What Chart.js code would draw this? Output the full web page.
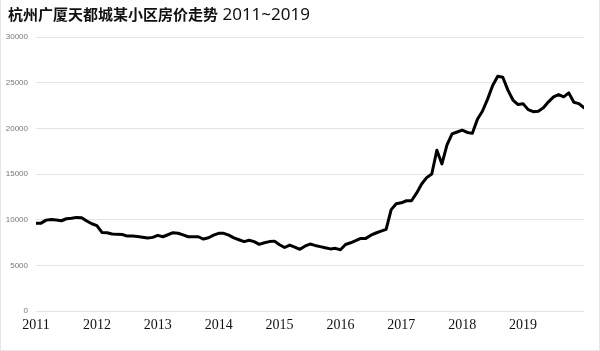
<!DOCTYPE html>
<html>
<head>
<meta charset="utf-8">
<script src="https://cdn.jsdelivr.net/npm/chart.js@4"></script>
<style>
html,body{margin:0;padding:0;background:#fff;}
#wrap{position:relative;width:600px;height:351px;box-sizing:border-box;border-left:1px solid #e6e6e6;border-right:1px solid #e6e6e6;border-bottom:1px solid #e6e6e6;}
#title{position:absolute;left:7px;top:2px;font-family:"Noto Sans CJK SC","Noto Sans",sans-serif;font-weight:bold;font-size:15px;color:#111;white-space:nowrap;}
#title span{font-weight:normal;font-size:17px;font-family:"Noto Sans","Noto Sans CJK SC",sans-serif;}
canvas{position:absolute;left:0;top:0;}
</style>
</head>
<body>
<div id="wrap">
<canvas id="c" width="600" height="351"></canvas>
<div id="title">杭州广厦天都城某小区房价走势<span> 2011~2019</span></div>
</div>
<script>
const startYear = 2011;
const yearTicks = [2011, 2012, 2013, 2014, 2015, 2016, 2017, 2018, 2019];
const yTicks = [0, 5000, 10000, 15000, 20000, 25000, 30000];
// monthly prices, Jan 2011 .. Jan 2020
const prices = [
  9600, 9620, 9950, 10030, 9955, 9880, 10100, 10160, 10250, 10220, 9850, 9550,
  9350, 8600, 8560, 8430, 8390, 8380, 8200, 8200, 8150, 8080, 7990, 8060,
  8280, 8130, 8350, 8570, 8510, 8330, 8130, 8130, 8130, 7880, 8020, 8300,
  8500, 8500, 8300, 8000, 7800, 7600, 7750, 7600, 7300, 7470, 7600, 7650,
  7250, 6950, 7220, 7000, 6750, 7100, 7330, 7180, 7050, 6920, 6800, 6860,
  6700, 7280, 7470, 7700, 7950, 7950, 8300, 8540, 8750, 8940, 11100, 11750,
  11850, 12070, 12070, 12900, 13900, 14600, 15000, 17600, 16100, 18200, 19400, 19600,
  19800, 19550, 19450, 21000, 21900, 23200, 24700, 25700, 25600, 24180, 23100, 22600,
  22700, 22050, 21820, 21880, 22250, 22900, 23450, 23700, 23450, 23880, 22850, 22700,
  22250
];
const points = prices.map((v, i) => ({x: startYear + i / 12, y: v}));

new Chart(document.getElementById('c'), {
  type: 'line',
  data: {
    datasets: [{
      data: points,
      borderColor: '#000',
      borderWidth: 3,
      pointRadius: 0,
      tension: 0,
      fill: false,
      borderJoinStyle: 'round',
      borderCapStyle: 'round'
    }]
  },
  options: {
    responsive: false,
    animation: false,
    layout: {padding: {left: 0, right: 17, top: 37, bottom: 0}},
    plugins: {legend: {display: false}, title: {display: false}, tooltip: {enabled: false}},
    scales: {
      x: {
        type: 'linear',
        min: 2011,
        max: 2020,
        afterBuildTicks: (s) => { s.ticks = yearTicks.map(v => ({value: v})); },
        afterFit: (s) => { s.height = 40; },
        grid: {display: false, drawTicks: false},
        border: {display: false},
        ticks: {
          padding: 6,
          maxRotation: 0,
          autoSkip: false,
          color: '#111',
          font: {family: '"Liberation Serif", "DejaVu Serif", serif', size: 14},
          callback: (v) => String(v)
        }
      },
      y: {
        min: 0,
        max: 30000,
        afterBuildTicks: (s) => { s.ticks = yTicks.map(v => ({value: v})); },
        afterFit: (s) => { s.width = 35; },
        grid: {color: '#e3e3e3', lineWidth: 1, drawTicks: false},
        border: {display: false},
        ticks: {
          padding: 8,
          color: '#777',
          font: {family: '"Liberation Sans", Arial, sans-serif', size: 8},
          callback: (v) => String(v)
        }
      }
    }
  }
});
</script>
</body>
</html>
